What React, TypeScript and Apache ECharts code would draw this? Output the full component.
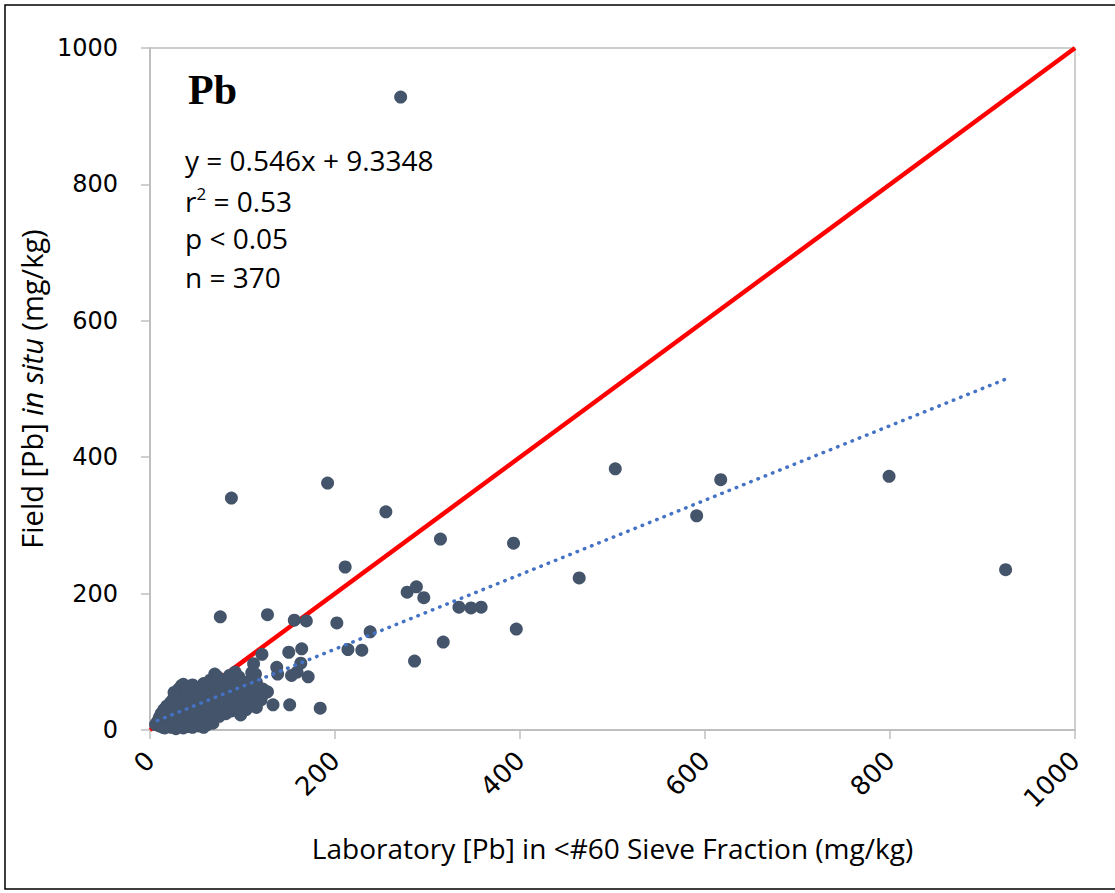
import React, { useEffect, useRef } from "react";
import * as echarts from "echarts";

// Outlying / clearly readable points [lab, field]
const outlierPoints: number[][] = [
  [271, 928], [88, 340], [192, 362], [255, 320], [503, 383], [617, 367],
  [799, 372], [591, 314], [314, 280], [393, 274], [211, 239], [464, 223],
  [925, 235], [76, 166], [127, 169], [156, 161], [169, 160], [202, 157],
  [278, 202], [288, 210], [296, 194], [238, 144], [334, 180], [347, 179],
  [358, 180], [317, 129], [396, 148], [286, 101], [214, 118], [229, 117],
  [184, 32], [171, 78], [153, 80], [159, 85], [163, 98], [164, 119],
  [150, 114], [137, 92], [151, 37], [133, 37], [123, 53], [115, 33],
  [121, 111], [112, 97], [114, 82], [138, 82], [92, 85], [127, 56],
  [118, 48], [108, 72], [104, 30], [98, 22],
];

// Dense cluster near the origin [lab, field]
const clusterPoints: number[][] = [
  [6, 8], [8, 12], [10, 6], [10, 18], [12, 9], [12, 24], [14, 4], [14, 15],
  [15, 30], [16, 10], [17, 20], [18, 6], [18, 35], [19, 14], [20, 26], [21, 9],
  [22, 40], [22, 18], [23, 4], [24, 30], [24, 12], [25, 45], [26, 22], [27, 7],
  [28, 35], [28, 15], [29, 50], [30, 26], [30, 10], [31, 60], [32, 40], [32, 18],
  [33, 5], [34, 30], [34, 65], [35, 48], [35, 12], [36, 22], [36, 67], [37, 55],
  [38, 36], [38, 8], [39, 28], [40, 44], [40, 16], [41, 62], [42, 34], [42, 5],
  [43, 24], [44, 52], [45, 40], [45, 12], [46, 66], [47, 30], [48, 20], [48, 58],
  [49, 46], [50, 8], [50, 36], [51, 26], [52, 54], [52, 16], [53, 6], [53, 62],
  [54, 42], [55, 30], [55, 10], [56, 50], [57, 20], [58, 68], [58, 38], [59, 28],
  [60, 56], [60, 14], [61, 46], [62, 34], [63, 22], [64, 62], [64, 15], [65, 52],
  [65, 73], [66, 40], [67, 28], [68, 70], [68, 18], [69, 48], [70, 36], [70, 60],
  [70, 82], [71, 24], [72, 44], [73, 78], [74, 32], [75, 56], [75, 20], [76, 66],
  [77, 40], [78, 28], [79, 50], [80, 62], [80, 36], [81, 72], [82, 24], [83, 46],
  [84, 56], [85, 32], [86, 42], [87, 66], [88, 28], [88, 52], [90, 38], [90, 74],
  [91, 60], [92, 46], [93, 30], [94, 56], [95, 68], [96, 40], [97, 50], [98, 34],
  [100, 60], [100, 44], [102, 52], [103, 38], [105, 65], [106, 46], [108, 56],
  [110, 42], [112, 60], [113, 48], [115, 70], [118, 52], [120, 44], [122, 60],
  [20, 33], [26, 55], [30, 45], [40, 54], [44, 64], [50, 48], [56, 62], [60, 42],
  [66, 58], [72, 52], [78, 60], [84, 68], [62, 8], [46, 4], [36, 3], [28, 2],
  [58, 4], [68, 10], [16, 3], [24, 20], [96, 78], [102, 70], [86, 80], [110, 84],
];

const trendSlope = 0.546;
const trendIntercept = 9.3348;
const trendRange = [8, 925];

const xTicks = { min: 0, max: 1000, interval: 200 };
const yTicks = { min: 0, max: 1000, interval: 200 };

const equationLines = ["y = 0.546x + 9.3348", "r{sup|2} = 0.53", "p < 0.05", "n = 370"];

export default function App() {
  const ref = useRef<HTMLDivElement>(null);
  useEffect(() => {
    document.body.style.margin = "0";
    if (!ref.current) return;
    const chart = echarts.init(ref.current, undefined, { renderer: "svg" });
    const axisGray = "#bfbfbf";
    const trendData = trendRange.map((x) => [x, trendSlope * x + trendIntercept]);
    const nameFont = "Open Sans";
    chart.setOption({
      animation: false,
      backgroundColor: "#ffffff",
      grid: {
        left: 150,
        top: 48,
        right: 40,
        bottom: 163,
        show: true,
        borderColor: axisGray,
        borderWidth: 1.5,
        backgroundColor: "transparent",
      },
      xAxis: {
        type: "value",
        min: xTicks.min,
        max: xTicks.max,
        interval: xTicks.interval,
        splitLine: { show: false },
        axisLine: { show: true, lineStyle: { color: axisGray, width: 2 } },
        axisTick: { show: true, inside: false, length: 9, lineStyle: { color: axisGray, width: 1.5 } },
        axisLabel: {
          rotate: 45,
          margin: 26,
          color: "#000",
          fontFamily: "DejaVu Sans",
          fontSize: 26,
          formatter: (v: number) => String(v),
        },
        name: "Laboratory [Pb] in <#60 Sieve Fraction (mg/kg)",
        nameLocation: "middle",
        nameGap: 104,
        nameTextStyle: { color: "#000", fontFamily: nameFont, fontSize: 28 },
      },
      yAxis: {
        type: "value",
        min: yTicks.min,
        max: yTicks.max,
        interval: yTicks.interval,
        splitLine: { show: false },
        axisLine: { show: true, lineStyle: { color: axisGray, width: 2 } },
        axisTick: { show: true, inside: false, length: 9, lineStyle: { color: axisGray, width: 1.5 } },
        axisLabel: {
          margin: 32,
          color: "#000",
          fontFamily: "DejaVu Sans",
          fontSize: 24,
          formatter: (v: number) => String(v),
        },
        name: "Field [Pb] {i|in situ} (mg/kg)",
        nameLocation: "middle",
        nameGap: 103,
        nameTextStyle: {
          color: "#000",
          fontFamily: nameFont,
          fontSize: 29,
          rich: { i: { fontStyle: "italic", fontFamily: nameFont, fontSize: 29, color: "#000" } },
        },
      },
      series: [
        {
          type: "line",
          data: [[0, 0], [1000, 1000]],
          symbol: "none",
          lineStyle: { color: "#ff0000", width: 4.5 },
          z: 1,
        },
        {
          type: "scatter",
          data: [...clusterPoints, ...outlierPoints],
          symbolSize: 13,
          itemStyle: { color: "#44546a", opacity: 1 },
          z: 2,
        },
        {
          type: "line",
          data: trendData,
          symbol: "none",
          lineStyle: { color: "#4472c4", width: 3.5, type: [0.5, 7.3], cap: "round" },
          z: 3,
        },
      ],
      graphic: [
        {
          type: "rect",
          shape: { x: 5, y: 5, width: 1130, height: 884 },
          style: { fill: "none", stroke: "#000", lineWidth: 1.5 },
          silent: true,
        },
        {
          type: "text",
          left: 188,
          top: 69,
          style: {
            text: "Pb",
            font: "bold 42px 'Liberation Serif'",
            fill: "#000",
          },
        },
        ...equationLines.map((t, i) => ({
          type: "text",
          left: 185,
          top: 146 + i * 39,
          style: {
            text: t,
            fontFamily: nameFont,
            fontSize: 28,
            fill: "#000",
            rich: {
              sup: { fontSize: 17, verticalAlign: "top", padding: [0, 0, 14, 0], fontFamily: nameFont, fill: "#000" },
            },
          },
        })),
      ],
    });
    return () => chart.dispose();
  }, []);
  return <div ref={ref} style={{ width: 1115, height: 893 }} />;
}
